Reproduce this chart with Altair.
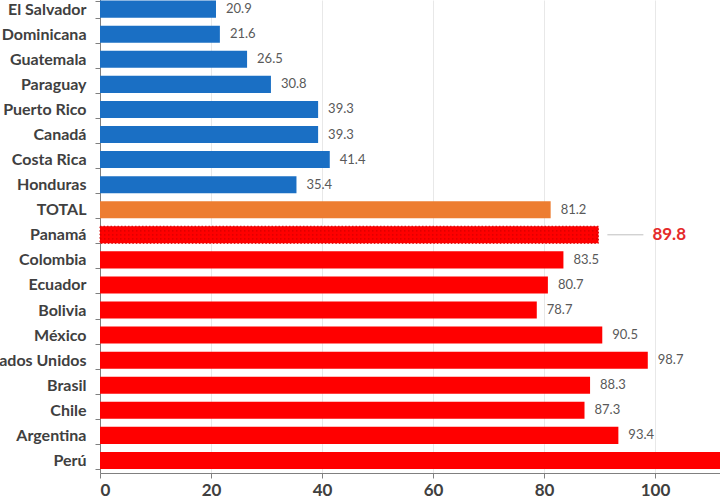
import altair as alt
import pandas as pd

# Countries top to bottom, with the value printed next to each bar
countries = [
    "El Salvador", "Rep. Dominicana", "Guatemala", "Paraguay", "Puerto Rico",
    "Canadá", "Costa Rica", "Honduras", "TOTAL", "Panamá", "Colombia",
    "Ecuador", "Bolivia", "México", "Estados Unidos", "Brasil", "Chile",
    "Argentina", "Perú",
]
values = [
    20.9, 21.6, 26.5, 30.8, 39.3, 39.3, 41.4, 35.4, 81.2, 89.8, 83.5,
    80.7, 78.7, 90.5, 98.7, 88.3, 87.3, 93.4, 121.0,
]
groups = (["bajo"] * 8) + ["total"] + (["alto"] * 10)
highlight = "Panamá"
x_ticks = [0, 20, 40, 60, 80, 100]

df = pd.DataFrame({"pais": countries, "valor": values, "grupo": groups})
df["etiqueta"] = df["valor"].map(lambda v: f"{v:.1f}")

FONT = "Lato"
X_MAX = 620 / 5.55  # visible extent of the value axis

band_scale = alt.Scale(range=[-3.4, 473], paddingInner=0.32, paddingOuter=0.16)

y_enc = alt.Y(
    "pais:N",
    sort=countries,
    scale=band_scale,
    axis=alt.Axis(
        title=None, labelFont=FONT, labelFontWeight="bold", labelFontSize=16,
        labelColor="#404040", labelPadding=9, tickSize=5, tickColor="#808080",
        tickBand="extent", domainColor="#808080", labelLimit=300,
    ),
)
y_mid = alt.Y("pais:N", sort=countries, bandPosition=0.5, scale=band_scale)
x_scale = alt.Scale(domain=[0, X_MAX], nice=False, zero=True)

base = alt.Chart(df)

bars = base.transform_filter(alt.datum.pais != highlight).mark_bar().encode(
    y=y_enc,
    x=alt.X(
        "valor:Q",
        scale=x_scale,
        axis=alt.Axis(
            title=None, values=x_ticks, labelFont=FONT, labelFontWeight="bold",
            labelFontSize=17, labelColor="#404040", tickSize=5, labelPadding=4,
            tickColor="#808080", domainColor="#808080",
            grid=True, gridColor="#e8e8e8",
        ),
    ),
    color=alt.Color(
        "grupo:N",
        scale=alt.Scale(domain=["bajo", "total", "alto"],
                        range=["#1a6fc4", "#ed7d31", "#ff0000"]),
        legend=None,
    ),
)

# Highlighted bar with a dotted texture
hl = base.transform_filter(alt.datum.pais == highlight)
hl_bar = hl.mark_bar(color="#ff0000", stroke="#d40000", strokeWidth=1,
                     strokeDash=[1.5, 2]).encode(y=y_enc, x=alt.X("valor:Q", scale=x_scale))
dots = [
    hl.transform_calculate(cero="0").mark_rule(
        color="#d40000", strokeWidth=1.2, strokeDash=[1.5, 2.5], yOffset=off
    ).encode(y=y_mid, x=alt.X("cero:Q", scale=x_scale), x2="valor:Q")
    for off in (-4, 0, 4)
]

# Value labels for every bar whose end is inside the plot
labels = base.transform_filter(
    (alt.datum.pais != highlight) & (alt.datum.valor < X_MAX)
).mark_text(
    align="left", baseline="middle", dx=10, font=FONT, fontSize=13, color="#595959"
).encode(y=y_mid, x="valor:Q", text="etiqueta:N")

leader = hl.mark_rule(color="#bfbfbf", strokeWidth=1, xOffset=9, x2Offset=45).encode(
    y=y_mid, x="valor:Q", x2="valor:Q"
)
hl_label = hl.mark_text(
    align="left", baseline="middle", dx=54, font=FONT, fontSize=17,
    fontWeight="bold", color="#e52b2b"
).encode(y=y_mid, x="valor:Q", text="etiqueta:N")

chart = alt.layer(bars, hl_bar, *dots, labels, leader, hl_label).properties(
    width=620,
    height=473,
    autosize=alt.AutoSizeParams(type="none"),
    padding={"left": 100, "top": 0, "right": 0, "bottom": 27},
    background="white",
).configure_view(stroke=None)

chart.save("out.html", embed_options={"renderer": "svg", "actions": False})
